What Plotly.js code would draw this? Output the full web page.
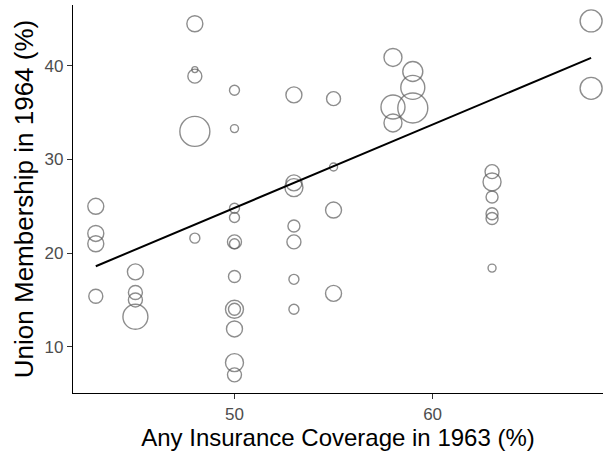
<!DOCTYPE html>
<html>
<head>
<meta charset="utf-8">
<script src="https://cdn.plot.ly/plotly-3.0.1.min.js"></script>
<style>
  html, body { margin: 0; padding: 0; background: #ffffff; }
  #chart { width: 605px; height: 454px; }
</style>
</head>
<body>
<div id="chart"></div>
<script>
// Insurance coverage in 1963 (%) for each state-level observation
const coverage1963 = [
  43, 43, 43, 43,
  45, 45, 45, 45,
  48, 48, 48, 48, 48,
  50, 50, 50, 50, 50, 50, 50, 50, 50, 50, 50, 50,
  53, 53, 53, 53, 53, 53, 53,
  55, 55, 55, 55,
  58, 58, 58,
  59, 59, 59,
  63, 63, 63, 63, 63, 63,
  68, 68
];

// Union membership in 1964 (%)
const union1964 = [
  25.0, 22.1, 21.0, 15.4,
  18.0, 15.8, 15.0, 13.2,
  44.5, 39.6, 38.9, 33.0, 21.6,
  37.4, 33.3, 24.8, 23.8, 21.2, 21.0, 17.5, 14.0, 14.0, 11.9, 8.3, 7.0,
  36.9, 27.5, 27.0, 22.9, 21.2, 17.2, 14.0,
  36.5, 29.2, 24.6, 15.7,
  40.9, 35.6, 33.9,
  39.4, 37.7, 35.5,
  28.7, 27.6, 26.0, 24.2, 23.7, 18.4,
  44.8, 37.6
];

// Observation weight (drives bubble area)
const weight = [
  64, 64, 64, 49,
  64, 49, 49, 156,
  64, 9, 49, 225, 25,
  25, 16, 25, 25, 49, 25, 36, 81, 36, 64, 81, 49,
  64, 64, 81, 36, 49, 25, 25,
  49, 16, 64, 64,
  81, 144, 81,
  100, 144, 225,
  49, 81, 36, 36, 36, 16,
  121, 121
];

// Fitted linear trend, evaluated at the ends of the coverage range
const fitX = [43, 68];
const fitY = [18.6, 40.85];

const xTicks = [50, 60];
const yTicks = [10, 20, 30, 40];

const FONT = 'Liberation Sans, Arial, sans-serif';

const points = {
  x: coverage1963,
  y: union1964,
  type: 'scatter',
  mode: 'markers',
  hoverinfo: 'skip',
  marker: {
    symbol: 'circle-open',
    size: weight,
    sizemode: 'area',
    sizeref: 0.5,
    color: '#5c5c5c',
    line: { color: '#5c5c5c', width: 1.4 }
  },
  showlegend: false
};

const trend = {
  x: fitX,
  y: fitY,
  type: 'scatter',
  mode: 'lines',
  hoverinfo: 'skip',
  line: { color: '#000000', width: 2 },
  showlegend: false
};

const axisBase = {
  showgrid: false,
  zeroline: false,
  showline: true,
  linecolor: '#000000',
  linewidth: 1.2,
  ticks: 'outside',
  ticklen: 5,
  tickwidth: 1.1,
  tickcolor: '#333333',
  tickfont: { family: FONT, size: 17, color: '#4d4d4d' },
  automargin: false
};

const layout = {
  width: 605,
  height: 454,
  margin: { l: 73, r: 2, t: 5, b: 61 },
  paper_bgcolor: '#ffffff',
  plot_bgcolor: '#ffffff',
  font: { family: FONT },
  xaxis: Object.assign({}, axisBase, {
    range: [41.85, 68.6],
    tickvals: xTicks,
    ticktext: xTicks.map(String),
    title: { text: 'Any Insurance Coverage in 1963 (%)', font: { family: FONT, size: 24, color: '#000000' }, standoff: 2 }
  }),
  yaxis: Object.assign({}, axisBase, {
    range: [5.06, 46.5],
    tickvals: yTicks,
    ticktext: yTicks.map(String),
    title: { text: 'Union Membership in 1964 (%)', font: { family: FONT, size: 26, color: '#000000' }, standoff: 3 }
  })
};

Plotly.newPlot('chart', [points, trend], layout, { staticPlot: true, displayModeBar: false });
</script>
</body>
</html>
